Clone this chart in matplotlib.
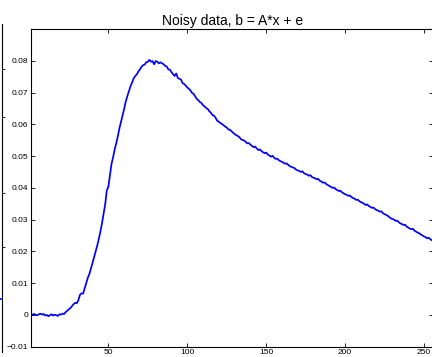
import numpy as np
import matplotlib
matplotlib.use("Agg")
import matplotlib.pyplot as plt

plt.rcParams['font.family'] = ['Liberation Sans', 'DejaVu Sans']

title = "Noisy data, b = A*x + e"

b = [
    0.0002, 0.0001, 0.0003, 0.0000, -0.0001, 0.0002, 0.0004, 0.0001, 0.0003, -0.0002,
    0.0000, -0.0004, -0.0001, 0.0002, -0.0002, 0.0001, -0.0001, -0.0003, 0.0002, 0.0001,
    0.0004, 0.0003, 0.0009, 0.0013, 0.0018, 0.0022, 0.0028, 0.0034, 0.0038, 0.0037,
    0.0046, 0.0063, 0.0068, 0.0067, 0.0084, 0.0101, 0.0117, 0.0129, 0.0146, 0.0164,
    0.0182, 0.0201, 0.0219, 0.0240, 0.0263, 0.0289, 0.0318, 0.0348, 0.0392, 0.0403,
    0.0440, 0.0475, 0.0496, 0.0521, 0.0540, 0.0562, 0.0587, 0.0607, 0.0626, 0.0648,
    0.0671, 0.0688, 0.0703, 0.0719, 0.0731, 0.0744, 0.0752, 0.0757, 0.0766, 0.0773,
    0.0781, 0.0786, 0.0788, 0.0795, 0.0797, 0.0803, 0.0797, 0.0799, 0.0789, 0.0799,
    0.0797, 0.0792, 0.0795, 0.0792, 0.0789, 0.0784, 0.0782, 0.0773, 0.0772, 0.0764,
    0.0758, 0.0752, 0.0760, 0.0746, 0.0743, 0.0741, 0.0730, 0.0727, 0.0722, 0.0716,
    0.0712, 0.0707, 0.0699, 0.0696, 0.0688, 0.0680, 0.0676, 0.0670, 0.0667, 0.0660,
    0.0656, 0.0651, 0.0648, 0.0641, 0.0636, 0.0629, 0.0627, 0.0620, 0.0611, 0.0608,
    0.0604, 0.0601, 0.0597, 0.0593, 0.0590, 0.0584, 0.0583, 0.0578, 0.0574, 0.0569,
    0.0566, 0.0563, 0.0560, 0.0553, 0.0551, 0.0549, 0.0545, 0.0540, 0.0541, 0.0536,
    0.0532, 0.0528, 0.0530, 0.0524, 0.0519, 0.0521, 0.0516, 0.0512, 0.0509, 0.0511,
    0.0505, 0.0502, 0.0498, 0.0501, 0.0495, 0.0491, 0.0492, 0.0487, 0.0484, 0.0482,
    0.0479, 0.0476, 0.0477, 0.0472, 0.0468, 0.0466, 0.0464, 0.0462, 0.0457, 0.0455,
    0.0453, 0.0450, 0.0452, 0.0446, 0.0443, 0.0442, 0.0438, 0.0440, 0.0434, 0.0432,
    0.0430, 0.0427, 0.0428, 0.0422, 0.0420, 0.0416, 0.0417, 0.0412, 0.0409, 0.0406,
    0.0403, 0.0400, 0.0401, 0.0396, 0.0393, 0.0390, 0.0391, 0.0386, 0.0383, 0.0380,
    0.0378, 0.0375, 0.0376, 0.0371, 0.0368, 0.0366, 0.0362, 0.0363, 0.0358, 0.0355,
    0.0353, 0.0350, 0.0346, 0.0348, 0.0343, 0.0340, 0.0337, 0.0338, 0.0333, 0.0330,
    0.0328, 0.0325, 0.0326, 0.0320, 0.0317, 0.0315, 0.0312, 0.0308, 0.0304, 0.0302,
    0.0300, 0.0296, 0.0297, 0.0292, 0.0288, 0.0286, 0.0283, 0.0284, 0.0278, 0.0275,
    0.0272, 0.0270, 0.0271, 0.0265, 0.0262, 0.0259, 0.0257, 0.0253, 0.0250, 0.0247,
    0.0245, 0.0241, 0.0243, 0.0238, 0.0235, 0.0233,
]
x = np.arange(1, len(b) + 1)

xticks = [50, 100, 150, 200, 250]
yticks = [-0.01, 0, 0.01, 0.02, 0.03, 0.04, 0.05, 0.06, 0.07, 0.08]
ytick_labels = ["\u22120.01", "0", "0.01", "0.02", "0.03", "0.04", "0.05", "0.06", "0.07", "0.08"]

# neighbouring (cropped) subplot edge
nb_ticks = [69, 117, 193, 247]
nb_line_y = [299, 299]

W, H = 432, 357
fig = plt.figure(figsize=(W / 100, H / 100), dpi=100)

# neighbour axes: only its right spine is visible at the left edge
ax0 = fig.add_axes([-100 / W, (H - 352) / H, 101.5 / W, (352 - 24) / H])
ax0.set_xlim(0, 1)
ax0.set_ylim(352, 24)
for s in ['left', 'top', 'bottom']:
    ax0.spines[s].set_visible(False)
ax0.spines['right'].set_linewidth(0.8)
ax0.yaxis.tick_right()
ax0.set_yticks(nb_ticks)
ax0.tick_params(axis='y', direction='out', length=2.5, width=0.6, labelright=False)
ax0.set_xticks([])
ax0.plot([0.9, 1.0], nb_line_y, color='#0000ff', lw=1.2)
ax0.patch.set_visible(False)

# main axes
ax = fig.add_axes([31 / W, (H - 346.7) / H, (433.5 - 31) / W, (346.7 - 29) / H])
ax.plot(x, b, color='#0000ff', lw=1.25)
ax.set_xlim(1, 256)
ax.set_ylim(-0.01, 0.09)
ax.set_xticks(xticks)
ax.set_yticks(yticks)
ax.set_yticklabels(ytick_labels)
ax.tick_params(direction='in', length=3, width=0.6, labelsize=6, colors='black',
               top=True, right=True, pad=2)
for s in ax.spines.values():
    s.set_linewidth(0.8)
ax.set_title(title, fontsize=10, pad=3)

fig.savefig("out.png", dpi=100)
